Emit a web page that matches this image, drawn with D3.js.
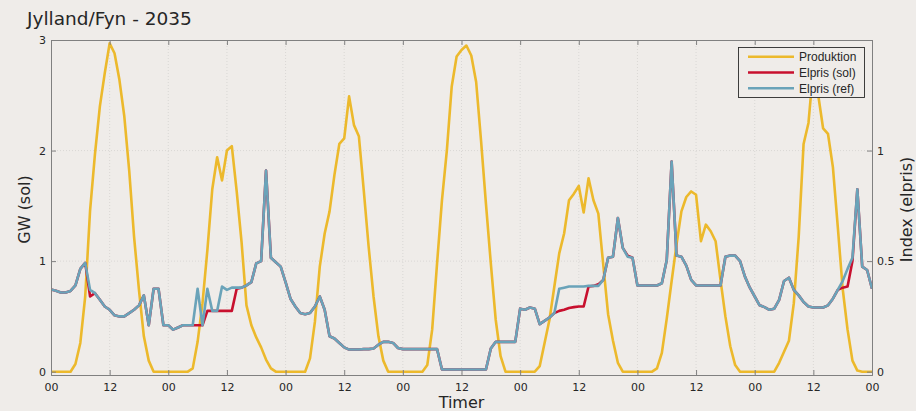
<!DOCTYPE html>
<html>
<head>
<meta charset="utf-8">
<script src="https://cdn.jsdelivr.net/npm/d3@7"></script>
<style>
  html, body { margin: 0; padding: 0; background: #efece9; }
  svg { display: block; }
</style>
</head>
<body>
<svg id="chart" width="916" height="411"></svg>
<script>
// ---- data (hourly, h0..h168) ----
const hours = d3.range(0, 169);
const xTickHours = [0, 12, 24, 36, 48, 60, 72, 84, 96, 108, 120, 132, 144, 156, 168];
const xTickLabels = ["00","12","00","12","00","12","00","12","00","12","00","12","00","12","00"];
const leftTicks = [0, 1, 2, 3];
const rightTicks = [0, 0.5, 1];
const rightTickLabels = ["0", "0.5", "1"];
const seriesNames = ["Produktion", "Elpris (sol)", "Elpris (ref)"];

// production, GW
const produktion = [
  0,0,0,0,0,0.07,0.26,0.68,1.46,1.97,2.4,2.7,2.97,2.88,2.64,2.31,1.82,1.22,0.74,0.32,0.1,0,0,0,
  0,0,0,0,0,0.03,0.27,0.62,1.1,1.65,1.94,1.73,2.0,2.04,1.63,1.17,0.6,0.42,0.31,0.22,0.11,0.03,0,0,
  0,0,0,0,0,0.12,0.45,0.95,1.25,1.45,1.78,2.06,2.11,2.49,2.23,2.13,1.64,1.13,0.68,0.32,0.1,0,0,0,
  0,0,0,0,0,0.06,0.38,0.98,1.55,2.0,2.58,2.85,2.91,2.95,2.86,2.62,2.09,1.52,0.98,0.47,0.14,0,0,0,
  0,0,0,0,0.05,0.26,0.47,0.77,1.07,1.25,1.55,1.61,1.68,1.44,1.75,1.55,1.43,0.97,0.52,0.28,0.08,0,0,0,
  0,0,0,0,0.03,0.17,0.48,0.82,1.15,1.45,1.58,1.63,1.6,1.18,1.33,1.27,1.18,0.83,0.5,0.23,0.06,0,0,0,
  0,0,0,0,0,0.08,0.18,0.28,0.62,1.22,2.06,2.25,2.75,2.5,2.2,2.15,1.85,1.31,0.75,0.38,0.1,0.01,0,0,0
];

// reference electricity price, index
const elprisRef = [
  0.372,0.366,0.358,0.358,0.365,0.39,0.465,0.492,0.37,0.355,0.325,0.295,0.28,0.255,0.25,0.25,0.265,0.28,0.30,0.345,0.21,0.375,0.375,0.21,
  0.21,0.19,0.20,0.21,0.21,0.21,0.375,0.21,0.375,0.275,0.275,0.385,0.37,0.38,0.38,0.38,0.39,0.405,0.49,0.50,0.91,0.515,0.495,0.475,
  0.405,0.33,0.295,0.265,0.26,0.265,0.295,0.34,0.28,0.16,0.15,0.13,0.11,0.10,0.10,0.10,0.102,0.102,0.105,0.122,0.135,0.135,0.13,0.107,
  0.102,0.102,0.102,0.102,0.102,0.102,0.102,0.102,0.01,0.01,0.01,0.01,0.01,0.01,0.01,0.01,0.01,0.01,0.105,0.135,0.135,0.135,0.135,0.135,
  0.285,0.28,0.29,0.285,0.215,0.23,0.245,0.265,0.375,0.38,0.385,0.385,0.385,0.385,0.388,0.388,0.388,0.415,0.515,0.52,0.695,0.56,0.52,0.515,
  0.39,0.39,0.39,0.39,0.39,0.40,0.505,0.95,0.525,0.52,0.48,0.415,0.39,0.39,0.39,0.39,0.39,0.39,0.52,0.525,0.525,0.50,0.43,0.38,
  0.34,0.30,0.292,0.28,0.285,0.325,0.41,0.425,0.37,0.345,0.315,0.295,0.29,0.29,0.29,0.30,0.33,0.37,0.41,0.465,0.515,0.825,0.475,0.46,0.375
];

// electricity price with solar, index
const elprisSol = [
  0.372,0.366,0.358,0.358,0.365,0.39,0.465,0.492,0.34,0.355,0.325,0.295,0.28,0.255,0.25,0.25,0.265,0.28,0.30,0.345,0.21,0.375,0.375,0.21,
  0.21,0.19,0.20,0.21,0.21,0.21,0.21,0.21,0.275,0.275,0.275,0.275,0.275,0.275,0.375,0.38,0.39,0.405,0.49,0.50,0.91,0.515,0.495,0.475,
  0.405,0.33,0.295,0.265,0.26,0.265,0.295,0.34,0.28,0.16,0.15,0.13,0.11,0.10,0.10,0.10,0.102,0.102,0.105,0.122,0.135,0.135,0.13,0.107,
  0.102,0.102,0.102,0.102,0.102,0.102,0.102,0.102,0.01,0.01,0.01,0.01,0.01,0.01,0.01,0.01,0.01,0.01,0.105,0.135,0.135,0.135,0.135,0.135,
  0.285,0.28,0.29,0.285,0.215,0.23,0.245,0.265,0.275,0.28,0.288,0.292,0.295,0.295,0.385,0.388,0.395,0.415,0.515,0.52,0.695,0.56,0.525,0.515,
  0.39,0.39,0.39,0.39,0.39,0.40,0.505,0.95,0.525,0.52,0.48,0.415,0.39,0.39,0.39,0.39,0.39,0.39,0.52,0.525,0.525,0.50,0.43,0.38,
  0.34,0.30,0.292,0.28,0.285,0.325,0.41,0.425,0.37,0.345,0.315,0.295,0.29,0.29,0.29,0.30,0.33,0.37,0.38,0.385,0.50,0.825,0.475,0.46,0.375
];

// ---- layout ----
const L = 51, R = 872, T = 40, B = 375;
const colors = { prod: "#ecb92c", sol: "#c8102e", ref: "#6aa3b9" };
const axisColor = "#808080", textColor = "#262626", gridColor = "#d4d2cf";
const tickFont = "'DejaVu Sans', Verdana, sans-serif";

const svg = d3.select("#chart");
const x = d3.scaleLinear().domain([0, 168]).range([L, R]);
const yL = d3.scaleLinear().domain([-0.03, 3]).range([B, T]);
const yR = d3.scaleLinear().domain([-0.015, 1.5]).range([B, T]);

// grid
const grid = svg.append("g");
grid.selectAll("line.vg").data(xTickHours.slice(1, -1)).enter().append("line")
  .attr("x1", d => x(d)).attr("x2", d => x(d)).attr("y1", T).attr("y2", B)
  .attr("stroke", gridColor).attr("stroke-width", 0.8).attr("stroke-dasharray", "1,2");
grid.selectAll("line.hg").data([1, 2]).enter().append("line")
  .attr("x1", L).attr("x2", R).attr("y1", d => yL(d)).attr("y2", d => yL(d))
  .attr("stroke", gridColor).attr("stroke-width", 0.8).attr("stroke-dasharray", "1,2");

// lines
const clip = svg.append("clipPath").attr("id", "clip").append("rect")
  .attr("x", L).attr("y", T).attr("width", R - L).attr("height", B - T);
const plot = svg.append("g").attr("clip-path", "url(#clip)");
const lineL = d3.line().x((d, i) => x(hours[i])).y(d => yL(d));
const lineR = d3.line().x((d, i) => x(hours[i])).y(d => yR(d));
plot.append("path").datum(produktion).attr("d", lineL)
  .attr("fill", "none").attr("stroke", colors.prod).attr("stroke-width", 2.6).attr("stroke-linejoin", "round");
plot.append("path").datum(elprisSol).attr("d", lineR)
  .attr("fill", "none").attr("stroke", colors.sol).attr("stroke-width", 2.6).attr("stroke-linejoin", "round");
plot.append("path").datum(elprisRef).attr("d", lineR)
  .attr("fill", "none").attr("stroke", colors.ref).attr("stroke-width", 2.6).attr("stroke-linejoin", "round");

// axes (inward ticks)
const tl = 5;
const xAxisB = d3.axisBottom(x).tickValues(xTickHours).tickSize(-tl).tickPadding(8)
  .tickFormat((d, i) => xTickLabels[i]);
const gxb = svg.append("g").attr("transform", `translate(0,${B})`).call(xAxisB);
const xAxisT = d3.axisTop(x).tickValues(xTickHours).tickSize(-tl).tickFormat("");
const gxt = svg.append("g").attr("transform", `translate(0,${T})`).call(xAxisT);
const yAxisL = d3.axisLeft(yL).tickValues(leftTicks).tickSize(-tl).tickPadding(5).tickFormat(d3.format("d"));
const gyl = svg.append("g").attr("transform", `translate(${L},0)`).call(yAxisL);
const yAxisR = d3.axisRight(yR).tickValues(rightTicks).tickSize(-tl).tickPadding(5)
  .tickFormat((d, i) => rightTickLabels[i]);
const gyr = svg.append("g").attr("transform", `translate(${R},0)`).call(yAxisR);
[gxb, gxt, gyl, gyr].forEach(g => {
  g.select(".domain").attr("stroke", axisColor).attr("stroke-width", 1);
  g.selectAll(".tick line").attr("stroke", axisColor).attr("stroke-width", 1);
  g.selectAll(".tick text").attr("fill", textColor).style("font-family", tickFont).style("font-size", "11px");
});

// titles
svg.append("text").attr("x", 27).attr("y", 25).text("Jylland/Fyn - 2035")
  .attr("fill", textColor).style("font-family", tickFont).style("font-size", "18.5px");
svg.append("text").attr("x", x(84)).attr("y", 407.5).attr("text-anchor", "middle").text("Timer")
  .attr("fill", textColor).style("font-family", tickFont).style("font-size", "16px");
svg.append("text").attr("transform", `translate(29.5,${(T + B) / 2 + 2}) rotate(-90)`)
  .attr("text-anchor", "middle").text("GW (sol)")
  .attr("fill", textColor).style("font-family", tickFont).style("font-size", "16px");
svg.append("text").attr("transform", `translate(912,${(T + B) / 2 + 2}) rotate(-90)`)
  .attr("text-anchor", "middle").text("Index (elpris)")
  .attr("fill", textColor).style("font-family", tickFont).style("font-size", "16px");

// legend
const lg = svg.append("g");
lg.append("rect").attr("x", 738.5).attr("y", 47.5).attr("width", 126).attr("height", 50)
  .attr("fill", "#efece9").attr("stroke", "#2b2b2b").attr("stroke-width", 0.9);
const legendColors = [colors.prod, colors.sol, colors.ref];
const rowY = [56.7, 72.5, 88.3];
seriesNames.forEach((name, i) => {
  lg.append("line").attr("x1", 748).attr("x2", 794).attr("y1", rowY[i]).attr("y2", rowY[i])
    .attr("stroke", legendColors[i]).attr("stroke-width", 2.6);
  lg.append("text").attr("x", 799).attr("y", rowY[i]).attr("dy", "0.35em").text(name)
    .attr("fill", textColor).style("font-family", "'Liberation Sans', Arial, sans-serif").style("font-size", "12px");
});
</script>
</body>
</html>
